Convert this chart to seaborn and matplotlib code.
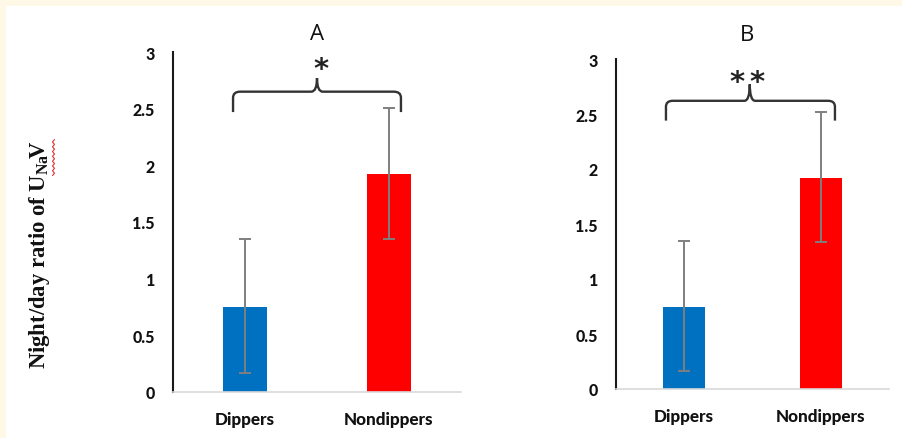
import numpy as np
import pandas as pd
import matplotlib
matplotlib.use("Agg")
import matplotlib.pyplot as plt
import seaborn as sns
from matplotlib.path import Path
from matplotlib.patches import PathPatch, Rectangle
from matplotlib.lines import Line2D

# ---- data ----
groups = ["Dippers", "Nondippers"]
means_A = [0.75, 1.92]
err_low_A = [0.58, 0.57]
err_high_A = [0.60, 0.59]
means_B = [0.75, 1.92]
err_low_B = [0.59, 0.58]
err_high_B = [0.60, 0.60]
panel_titles = ["A", "B"]
signif = ["*", "**"]
yticks = [0, 0.5, 1, 1.5, 2, 2.5, 3]
ytick_labels = ["0", "0.5", "1", "1.5", "2", "2.5", "3"]
bar_colors = ["#0070C0", "#FF0000"]

sns.set_style("white")
plt.rcParams["mathtext.fontset"] = "custom"
plt.rcParams["mathtext.rm"] = "Liberation Serif:bold"
plt.rcParams["mathtext.bf"] = "Liberation Serif:bold"

W, H = 902, 439
fig = plt.figure(figsize=(W / 100, H / 100), dpi=100)
fig.patch.set_facecolor("#FEF9E6")
# white inner panel
fig.patches.append(Rectangle((6 / W, 0), 1, 1 - 7 / H, transform=fig.transFigure,
                             facecolor="white", edgecolor="none", zorder=-10))

def px_axes(l, r, t, b):
    return fig.add_axes([l / W, (H - b) / H, (r - l) / W, (b - t) / H])

axA = px_axes(173, 461, 53, 393)
axB = px_axes(616, 889, 60, 390)

def brace(ax, x0, x1, xm, ylow, ymid, ytip):
    dx = 0.05
    dy = (ymid - ylow) * 0.3
    verts = [
        (x0, ylow), (x0, ymid - dy),
        (x0, ymid), (x0 + dx, ymid),
        (xm - dx * 0.8, ymid),
        (xm, ymid), (xm, ytip),
        (xm, ymid), (xm + dx * 0.8, ymid),
        (x1 - dx, ymid),
        (x1, ymid), (x1, ymid - dy),
        (x1, ylow),
    ]
    codes = [
        Path.MOVETO, Path.LINETO,
        Path.CURVE3, Path.CURVE3,
        Path.LINETO,
        Path.CURVE3, Path.CURVE3,
        Path.CURVE3, Path.CURVE3,
        Path.LINETO,
        Path.CURVE3, Path.CURVE3,
        Path.LINETO,
    ]
    ax.add_patch(PathPatch(Path(verts, codes), facecolor="none",
                           edgecolor="#333333", lw=1.7, clip_on=False, zorder=5))

def draw(ax, means, lo, hi, title, sig, brace_spec, star_xs, star_y, title_x, title_y):
    df = pd.DataFrame({"group": groups, "value": means})
    sns.barplot(data=df, x="group", y="value", hue="group", palette=bar_colors,
                width=0.31, legend=False, ax=ax, saturation=1, edgecolor="none")
    ax.errorbar(x=np.arange(len(groups)), y=means, yerr=[lo, hi], fmt="none",
                ecolor="#7F7F7F", elinewidth=1.4, capsize=4.5, capthick=1.4, zorder=4)
    ax.set_xlim(-0.5, 1.5)
    ax.set_ylim(0, 3)
    ax.set_yticks(yticks)
    ax.set_yticklabels(ytick_labels)
    ax.set_xlabel("")
    ax.set_ylabel("")
    ax.tick_params(axis="x", length=0, labelsize=12.3, pad=14)
    ax.tick_params(axis="y", length=0, labelsize=11.5, pad=13)
    for lab in ax.get_xticklabels() + ax.get_yticklabels():
        lab.set_fontfamily("Lato")
        lab.set_fontweight(900)
        lab.set_color("#111111")
    sns.despine(ax=ax)
    ax.spines["left"].set_color("#1a1a1a")
    ax.spines["left"].set_linewidth(1.5)
    ax.spines["bottom"].set_color("#D9D9D9")
    ax.spines["bottom"].set_linewidth(1.2)
    ax.set_facecolor("none")
    brace(ax, *brace_spec)
    for sx in star_xs:
        ax.text(sx, star_y, "*", ha="center", va="center", fontweight="bold",
                fontsize=21, fontfamily="DejaVu Sans", color="#222222", clip_on=False)
    ax.text(title_x, title_y, title, ha="center", va="center",
            fontsize=16, fontfamily="Open Sans", color="#111111", clip_on=False)

draw(axA, means_A, err_low_A, err_high_A, panel_titles[0], signif[0],
     (-0.083, 1.083, 0.5, 2.47, 2.65, 2.77), [0.53], 2.85, 0.5, 3.16)
draw(axB, means_B, err_low_B, err_high_B, panel_titles[1], signif[1],
     (-0.134, 1.104, 0.48, 2.44, 2.62, 2.77), [0.385, 0.53], 2.79, 0.46, 3.22)

ylab = fig.text(40 / W, (H - 255) / H, r"Night/day ratio of U$_{\mathrm{Na}}\!$V",
                rotation=90, ha="center", va="center", fontsize=16.3,
                fontfamily="Liberation Serif", fontweight="bold", color="#111111")

# red spell-check squiggle under "NaV"
fig.canvas.draw()
bb = ylab.get_window_extent()
n = 16
ys = np.linspace(bb.y1 - 36, bb.y1, n)
xs = bb.x1 + 1.0 + np.where(np.arange(n) % 2 == 0, -1.0, 1.0)
fig.add_artist(Line2D(xs / W, ys / H, color="#E03030", lw=0.8,
                      transform=fig.transFigure))

fig.savefig("out.png", dpi=100, facecolor=fig.get_facecolor())
